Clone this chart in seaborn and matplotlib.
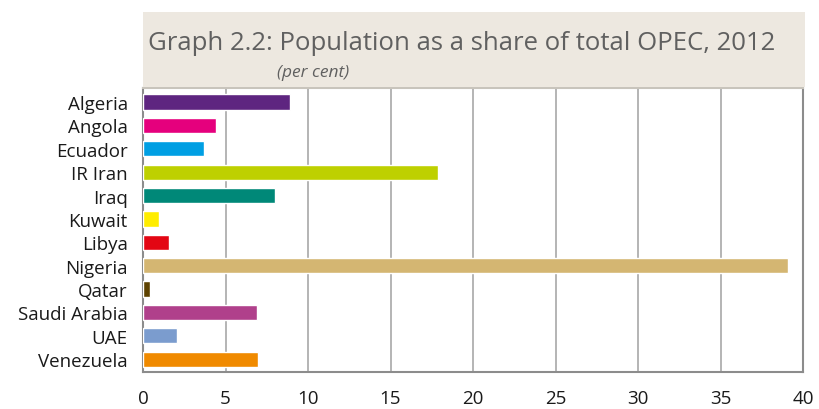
import matplotlib
matplotlib.use("Agg")
import matplotlib.pyplot as plt
from matplotlib.patches import Rectangle
import pandas as pd
import seaborn as sns

countries = ["Algeria", "Angola", "Ecuador", "IR Iran", "Iraq", "Kuwait", "Libya",
             "Nigeria", "Qatar", "Saudi Arabia", "UAE", "Venezuela"]
shares = [8.9, 4.4, 3.7, 17.9, 8.0, 0.95, 1.55, 39.1, 0.45, 6.9, 2.05, 6.95]
colors = ["#5E2580", "#E5007D", "#009FE3", "#BED000", "#008878", "#FFED00",
          "#E30613", "#D4B672", "#5E4200", "#B0408B", "#7B9CCE", "#F08A00"]
xticks = [0, 5, 10, 15, 20, 25, 30, 35, 40]

df = pd.DataFrame({"country": countries, "share": shares})

sns.set_style("white")
plt.rcParams["font.family"] = ["Open Sans", "DejaVu Sans"]

fig = plt.figure(figsize=(8.19, 4.10), dpi=100)
ax = fig.add_axes([0.1746, 0.090, 0.806, 0.693])

# title box
fig.patches.append(Rectangle((0.1746, 0.785), 0.808, 0.183, transform=fig.transFigure,
                             facecolor="#EDE8E0", edgecolor="none", zorder=0))
fig.text(0.181, 0.893, "Graph 2.2: Population as a share of total OPEC, 2012",
         fontsize=18.5, color="#606060", va="center", ha="left")
fig.text(0.338, 0.823, "(per cent)", fontsize=12.5, style="italic",
         color="#606060", va="center", ha="left")

sns.barplot(data=df, x="share", y="country", hue="country", palette=colors,
            legend=False, width=0.65, saturation=1, ax=ax, zorder=3)

ax.set_xlim(0, 40)
ax.set_ylim(11.55, -0.6)
ax.set_xticks(xticks)
ax.set_xticklabels([str(t) for t in xticks])
ax.xaxis.grid(True, color="#A8A8A8", linewidth=1.2, zorder=0)
ax.set_axisbelow(True)
ax.set_xlabel("")
ax.set_ylabel("")
ax.tick_params(axis="both", length=0, labelsize=13.5, colors="#1a1a1a")
ax.tick_params(axis="x", pad=12)
ax.tick_params(axis="y", pad=11)

for side in ["left", "bottom", "right"]:
    ax.spines[side].set_color("#8c8c8c")
    ax.spines[side].set_linewidth(1.5)
ax.spines["top"].set_color("#C8C4BC")
ax.spines["top"].set_linewidth(1.5)

plt.savefig("out.png", dpi=100)
plt.close()
